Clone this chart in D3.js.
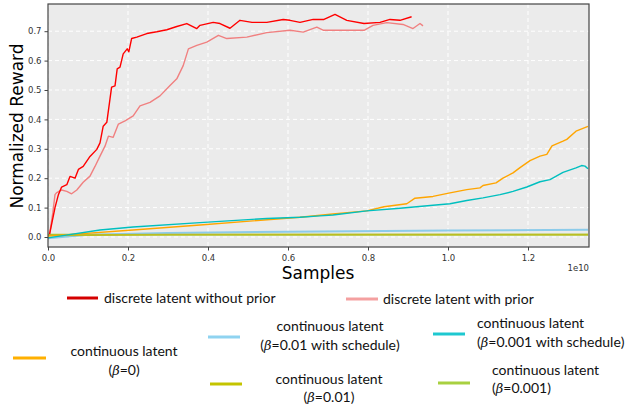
<!DOCTYPE html>
<html>
<head>
<meta charset="utf-8">
<script src="https://cdn.jsdelivr.net/npm/d3@7"></script>
<style>
  body { margin: 0; background: #fff; }
  svg { display: block; }
</style>
</head>
<body>
<svg></svg>
<script>
// values (x in units of 1e10 samples)
let redSeries = [[0.004,0.01],[0.0175,0.10],[0.026,0.144],[0.034,0.17],[0.047,0.178],[0.055,0.206],[0.0675,0.20],[0.076,0.23],[0.088,0.24],[0.105,0.274],[0.122,0.298],[0.13,0.32],[0.138,0.377],[0.147,0.39],[0.155,0.47],[0.159,0.51],[0.1675,0.514],[0.173,0.572],[0.18,0.578],[0.188,0.623],[0.198,0.64],[0.202,0.63],[0.209,0.675],[0.222,0.68],[0.247,0.692],[0.272,0.698],[0.297,0.705],[0.322,0.716],[0.347,0.726],[0.372,0.709],[0.38,0.72],[0.413,0.73],[0.43,0.726],[0.455,0.71],[0.48,0.737],[0.51,0.73],[0.547,0.73],[0.588,0.74],[0.605,0.737],[0.63,0.73],[0.663,0.74],[0.69,0.74],[0.7175,0.757],[0.747,0.737],[0.79,0.726],[0.83,0.73],[0.855,0.74],[0.88,0.737],[0.909,0.749]]
let pinkSeries = [[0.004,0.01],[0.012,0.082],[0.0175,0.144],[0.021,0.15],[0.034,0.16],[0.047,0.155],[0.059,0.147],[0.072,0.16],[0.088,0.186],[0.105,0.207],[0.1175,0.24],[0.13,0.275],[0.1425,0.309],[0.151,0.343],[0.163,0.339],[0.176,0.384],[0.1925,0.395],[0.213,0.412],[0.23,0.446],[0.255,0.458],[0.28,0.48],[0.305,0.515],[0.322,0.538],[0.338,0.583],[0.351,0.64],[0.372,0.652],[0.397,0.663],[0.426,0.686],[0.447,0.675],[0.497,0.68],[0.547,0.695],[0.605,0.703],[0.638,0.697],[0.672,0.714],[0.689,0.703],[0.747,0.703],[0.79,0.703],[0.8125,0.72],[0.847,0.729],[0.8875,0.723],[0.9125,0.709],[0.93,0.726],[0.9375,0.718]]
let orangeSeries = [[0,0.003],[0.2125,0.024],[0.38,0.041],[0.63,0.067],[0.7125,0.078],[0.797,0.089],[0.84,0.103],[0.897,0.113],[0.9175,0.132],[0.9625,0.138],[1.005,0.15],[1.047,0.161],[1.08,0.167],[1.0875,0.175],[1.12,0.184],[1.1375,0.2],[1.1625,0.218],[1.18,0.236],[1.205,0.26],[1.23,0.275],[1.247,0.281],[1.26,0.31],[1.2875,0.326],[1.297,0.332],[1.32,0.36],[1.35,0.376]]
let cyanSeries = [[0,-0.003],[0.13,0.024],[0.2125,0.034],[0.38,0.049],[0.547,0.063],[0.63,0.067],[0.68,0.072],[0.7125,0.075],[0.797,0.089],[0.88,0.098],[0.9625,0.108],[1.005,0.113],[1.047,0.124],[1.0875,0.133],[1.13,0.144],[1.1625,0.155],[1.197,0.17],[1.23,0.188],[1.255,0.195],[1.2875,0.22],[1.32,0.235],[1.334,0.243],[1.3425,0.241],[1.35,0.232]]
let skySeries = [[0,-0.004],[0.1,0.008],[0.3,0.014],[0.6,0.018],[1.0,0.022],[1.35,0.025]]
let greenSeries = [[0,0.008],[1.35,0.008]]
let oliveSeries = [[0,0.006],[0.3,0.008],[1.35,0.008]]

let xTicks = [0, 0.2, 0.4, 0.6, 0.8, 1.0, 1.2]
let yTicks = [0, 0.1, 0.2, 0.3, 0.4, 0.5, 0.6, 0.7]

let width = 628
let height = 404
let padLeft = 48, padRight = 589, padTop = 4, padBottom = 247

let svg = d3.select('svg').attr('width', width).attr('height', height)

let xScale = d3.scaleLinear().domain([0, 1.3525]).range([padLeft, padRight])
let yScale = d3.scaleLinear().domain([-0.034, 0.7925]).range([padBottom, padTop])

// background
svg.append('rect')
    .attr('x', padLeft).attr('y', padTop)
    .attr('width', padRight - padLeft).attr('height', padBottom - padTop)
    .attr('fill', '#ebebeb')

// grid
svg.selectAll('.gx').data(xTicks).enter().append('line')
    .attr('x1', d => xScale(d)).attr('x2', d => xScale(d))
    .attr('y1', padTop).attr('y2', padBottom)
    .attr('stroke', '#fff').attr('stroke-width', 1).attr('stroke-dasharray', '4,3')
svg.selectAll('.gy').data(yTicks).enter().append('line')
    .attr('y1', d => yScale(d)).attr('y2', d => yScale(d))
    .attr('x1', padLeft).attr('x2', padRight)
    .attr('stroke', '#fff').attr('stroke-width', 1).attr('stroke-dasharray', '4,3')

let line = d3.line().x(d => xScale(d[0])).y(d => yScale(d[1]))

let series = [
    { data: greenSeries, color: '#9acd32', w: 1.6 },
    { data: skySeries, color: '#8ccbea', w: 2 },
    { data: oliveSeries, color: '#bcbd22', w: 1.8 },
    { data: orangeSeries, color: '#ffa500', w: 1.4 },
    { data: cyanSeries, color: '#00bfbf', w: 1.4 },
    { data: pinkSeries, color: '#f08080', w: 1.4 },
    { data: redSeries, color: '#ff0000', w: 1.4 }
]

svg.selectAll('.series').data(series).enter().append('path')
    .attr('d', d => line(d.data))
    .attr('fill', 'none')
    .attr('stroke', d => d.color)
    .attr('stroke-width', d => d.w)
    .attr('stroke-linejoin', 'round')

// frame
svg.append('rect')
    .attr('x', padLeft).attr('y', padTop)
    .attr('width', padRight - padLeft).attr('height', padBottom - padTop)
    .attr('fill', 'none').attr('stroke', '#444').attr('stroke-width', 1.2)

// axes
let xAxis = d3.axisBottom(xScale).tickValues(xTicks).tickFormat(d3.format('.1f')).tickSizeOuter(0).tickSize(3.5)
let yAxis = d3.axisLeft(yScale).tickValues(yTicks).tickFormat(d3.format('.1f')).tickSizeOuter(0).tickSize(3.5)

let gx = svg.append('g').attr('transform', 'translate(0,' + padBottom + ')').call(xAxis)
let gy = svg.append('g').attr('transform', 'translate(' + padLeft + ',0)').call(yAxis)
;[gx, gy].forEach(g => {
    g.select('.domain').remove()
    g.selectAll('line').attr('stroke', '#444')
    g.selectAll('text').attr('fill', '#333').style('font-family', 'DejaVu Sans').style('font-size', '8.5px')
})
gx.selectAll('text').attr('dy', '0.85em')

svg.append('text')
    .attr('x', padRight).attr('y', 271)
    .attr('text-anchor', 'end')
    .style('font-family', 'DejaVu Sans').style('font-size', '8.5px').attr('fill', '#333')
    .text('1e10')

svg.append('text')
    .attr('x', 318).attr('y', 279)
    .attr('text-anchor', 'middle')
    .style('font-family', 'DejaVu Sans').style('font-size', '17px')
    .text('Samples')

svg.append('text')
    .attr('transform', 'translate(23,126) rotate(-90)')
    .attr('text-anchor', 'middle')
    .style('font-family', 'DejaVu Sans').style('font-size', '17px')
    .text('Normalized Reward')

// legend
let legendItems = [
    { color: '#d40000', x1: 67, x2: 98, y: 298, lines: ['discrete latent without prior'], tx: 104, ty: [303], anchor: 'start' },
    { color: '#f4a0a0', x1: 346, x2: 378, y: 299, lines: ['discrete latent with prior'], tx: 383, ty: [304], anchor: 'start' },
    { color: '#ffb000', x1: 13, x2: 46, y: 358, lines: ['continuous  latent', '|=0)'], tx: 124, ty: [356, 375], anchor: 'middle' },
    { color: '#8fd3f0', x1: 208, x2: 240, y: 337, lines: ['continuous latent', '|=0.01 with schedule)'], tx: 330, ty: [331, 350], anchor: 'middle' },
    { color: '#1ec8d0', x1: 433, x2: 465, y: 334, lines: ['continuous latent', '|=0.001 with schedule)'], tx: 477, ty: [328, 347], anchor: 'start' },
    { color: '#c4c400', x1: 210, x2: 242, y: 384, lines: ['continuous latent', '|=0.01)'], tx: 329, ty: [384, 402], anchor: 'middle' },
    { color: '#a8d040', x1: 438, x2: 470, y: 383, lines: ['continuous latent', '|=0.001)'], tx: 492, ty: [375, 393], anchor: 'start' }
]

let lg = svg.selectAll('.legend').data(legendItems).enter().append('g')
lg.append('line')
    .attr('x1', d => d.x1).attr('x2', d => d.x2)
    .attr('y1', d => d.y).attr('y2', d => d.y)
    .attr('stroke', d => d.color).attr('stroke-width', 3)
lg.each(function (d) {
    let g = d3.select(this)
    d.lines.forEach((t, i) => {
        let txt = g.append('text')
            .attr('x', d.tx).attr('y', d.ty[i])
            .attr('text-anchor', d.anchor)
            .style('font-family', 'Lato').style('font-size', '14px')
            .attr('fill', '#111')
        if (t.startsWith('|')) {
            // "(β=...)" with an italic beta
            txt.append('tspan').text('(')
            txt.append('tspan').style('font-style', 'italic').style('font-family', 'DejaVu Serif').style('font-size', '13px').text('\u03b2')
            txt.append('tspan').text(t.slice(1))
        } else {
            txt.text(t)
        }
    })
})
</script>
</body>
</html>
